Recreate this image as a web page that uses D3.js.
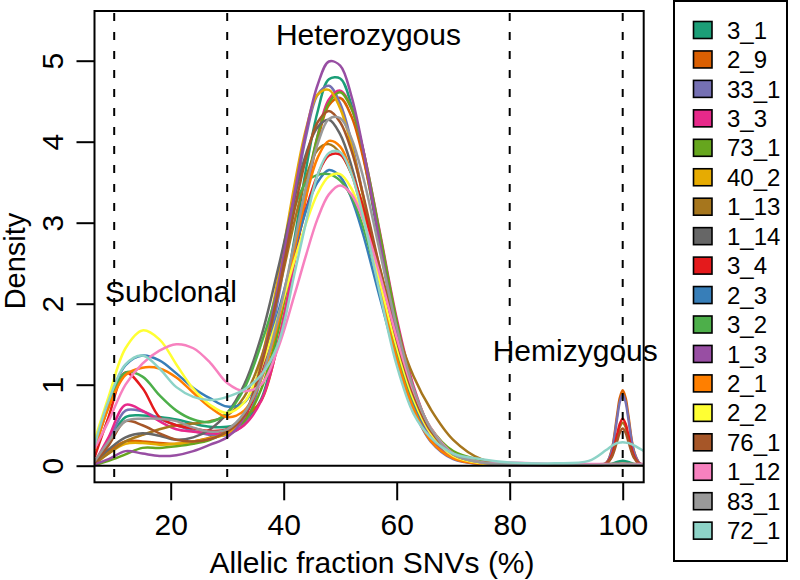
<!DOCTYPE html>
<html><head><meta charset="utf-8">
<script src="https://cdn.jsdelivr.net/npm/d3@7"></script>
<style>
body{margin:0;background:#fff}
svg{display:block}
text{font-family:"Liberation Sans",Arial,Helvetica,sans-serif;fill:#000}
</style>
</head><body>
<svg id="chart" width="800" height="580"></svg>
<script>
// ---- data ----
const xGrid = [6.6,9,12,15,18,21,24,27,30,33, 36,39,42,44,46,48,50,52,54,57,60,63,66,70,75,80,88, 94,97,98,99,99.5,100,100.5,101,102,103,103.8];

const sampleNames = ["3_1","2_9","33_1","3_3","73_1","40_2","1_13","1_14","3_4","2_3","3_2","1_3","2_1","2_2","76_1","1_12","83_1","72_1"];
const sampleColors = ["#1B9E77","#D95F02","#7570B3","#E7298A","#66A61E","#E6AB02","#A6761D","#666666","#E41A1C","#377EB8","#4DAF4A","#984EA3","#FF7F00","#FFFF33","#A65628","#F781BF","#999999","#8DD3C7"];

const d_3_1  = [0.04,0.30,0.60,0.62,0.60,0.57,0.52,0.48,0.48,0.55, 0.82,1.67,2.84,3.68,4.37,4.77,4.78,4.45,3.86,2.73,1.64,0.85,0.37,0.095,0.03,0.02,0.01, 0.01,0.012,0.02,0.045,0.056,0.06,0.056,0.045,0.02,0.012,0.01];
const d_2_9  = [0.04,0.18,0.30,0.30,0.28,0.27,0.30,0.35,0.45,0.60, 0.80,1.52,2.56,3.34,4.01,4.45,4.54,4.31,3.82,2.80,1.75,0.94,0.43,0.12,0.03,0.02,0.01, 0.01,0.03,0.18,0.62,0.84,0.93,0.84,0.62,0.18,0.03,0.01];
const d_33_1 = [0.05,0.30,0.68,0.67,0.58,0.50,0.43,0.38,0.38,0.52, 1.08,2.05,3.32,4.08,4.58,4.69,4.47,4.00,3.35,2.28,1.34,0.69,0.30,0.08,0.02,0.015,0.01, 0.01,0.03,0.17,0.58,0.79,0.88,0.79,0.58,0.17,0.03,0.01];
const d_3_3  = [0.05,0.35,0.75,0.68,0.55,0.45,0.42,0.40,0.40,0.50, 0.80,1.50,2.57,3.37,4.07,4.52,4.63,4.41,3.92,2.89,1.82,0.98,0.45,0.13,0.03,0.02,0.01, 0.012,0.015,0.017,0.02,0.02,0.02,0.02,0.02,0.017,0.015,0.012];
const d_73_1 = [0.01,0.06,0.14,0.22,0.22,0.24,0.27,0.32,0.42,0.55, 0.94,1.68,2.72,3.45,4.07,4.48,4.61,4.41,3.92,2.87,1.78,0.94,0.47,0.18,0.07,0.03,0.015, 0.015,0.02,0.02,0.025,0.025,0.025,0.025,0.025,0.02,0.02,0.015];
const d_40_2 = [0.02,0.15,0.27,0.28,0.26,0.27,0.30,0.34,0.40,0.60, 1.29,2.31,3.50,4.17,4.58,4.64,4.41,3.95,3.34,2.31,1.40,0.75,0.35,0.10,0.03,0.02,0.01, 0.01,0.012,0.015,0.018,0.02,0.02,0.02,0.018,0.015,0.012,0.01];
const d_1_13 = [0.03,0.15,0.30,0.38,0.45,0.50,0.52,0.55,0.62,0.85, 1.33,2.12,3.04,3.57,3.90,3.97,3.86,3.60,3.22,2.45,1.68,1.10,0.70,0.32,0.08,0.02,0.01, 0.01,0.02,0.11,0.35,0.48,0.53,0.48,0.35,0.11,0.02,0.01];
const d_1_14 = [0.05,0.20,0.35,0.40,0.37,0.32,0.35,0.45,0.65,1.00, 1.59,2.43,3.34,3.86,4.18,4.27,4.09,3.70,3.15,2.21,1.36,0.73,0.34,0.10,0.03,0.02,0.01, 0.01,0.012,0.015,0.015,0.015,0.015,0.015,0.015,0.015,0.012,0.01];
const d_3_4  = [0.12,0.60,1.15,0.96,0.60,0.50,0.46,0.43,0.45,0.60, 1.11,1.81,2.65,3.18,3.59,3.83,3.84,3.61,3.20,2.37,1.53,0.85,0.41,0.13,0.03,0.02,0.01, 0.01,0.024,0.12,0.38,0.52,0.58,0.52,0.38,0.12,0.024,0.01];
const d_2_3  = [0.30,0.78,1.24,1.36,1.30,1.14,0.96,0.83,0.73,0.78, 1.22,1.89,2.68,3.16,3.50,3.65,3.57,3.30,2.87,2.08,1.32,0.73,0.36,0.11,0.03,0.02,0.01, 0.01,0.015,0.018,0.02,0.02,0.02,0.02,0.02,0.018,0.015,0.01];
const d_3_2  = [0.22,0.72,1.15,1.10,0.87,0.68,0.57,0.54,0.65,0.95, 1.50,2.20,3.20,3.50,3.59,3.60,3.52,3.32,2.96,2.20,1.40,0.80,0.40,0.14,0.04,0.02,0.01, 0.01,0.012,0.015,0.015,0.015,0.015,0.015,0.015,0.015,0.012,0.01];
const d_1_3  = [0.02,0.08,0.18,0.15,0.12,0.13,0.18,0.26,0.35,0.60, 1.24,2.22,3.40,4.14,4.70,4.99,4.94,4.56,3.93,2.76,1.66,0.85,0.38,0.10,0.02,0.01,0.005, 0.005,0.008,0.01,0.012,0.012,0.012,0.012,0.012,0.01,0.008,0.005];
const d_2_1  = [0.20,0.72,1.12,1.21,1.20,1.09,0.90,0.72,0.60,0.68, 1.06,1.76,2.71,3.33,3.80,4.01,3.94,3.61,3.11,2.19,1.33,0.70,0.31,0.09,0.02,0.015,0.01, 0.01,0.012,0.015,0.015,0.015,0.015,0.015,0.015,0.015,0.012,0.01];
const d_2_2  = [0.33,0.85,1.45,1.67,1.56,1.25,0.95,0.75,0.65,0.78, 1.22,1.84,2.56,3.00,3.36,3.57,3.60,3.42,3.05,2.27,1.47,0.82,0.40,0.12,0.03,0.02,0.01, 0.01,0.01,0.01,0.01,0.01,0.01,0.01,0.01,0.01,0.01,0.01];
const d_76_1 = [0.04,0.25,0.55,0.50,0.40,0.32,0.30,0.33,0.42,0.62, 1.23,2.13,3.19,3.81,4.24,4.38,4.24,3.89,3.36,2.44,1.55,0.87,0.43,0.14,0.04,0.02,0.01, 0.01,0.02,0.097,0.30,0.41,0.46,0.41,0.30,0.097,0.02,0.01];
const d_1_12 = [0.22,0.55,1.00,1.26,1.42,1.50,1.45,1.27,1.02,0.92, 1.00,1.45,2.13,2.61,3.05,3.35,3.46,3.35,3.05,2.36,1.58,0.92,0.47,0.15,0.04,0.04,0.02, 0.02,0.02,0.02,0.02,0.02,0.02,0.02,0.02,0.02,0.02,0.02];
const d_83_1 = [0.06,0.30,0.55,0.58,0.58,0.55,0.47,0.42,0.45,0.65, 1.08,1.82,2.79,3.45,3.97,4.28,4.29,4.04,3.58,2.65,1.71,0.95,0.46,0.14,0.04,0.02,0.01, 0.01,0.012,0.015,0.015,0.015,0.015,0.015,0.015,0.015,0.012,0.01];
const d_72_1 = [0.27,0.80,1.25,1.36,1.20,0.97,0.85,0.81,0.85,0.94, 1.12,1.50,2.40,3.02,3.59,3.86,3.87,3.60,3.09,2.14,1.24,0.64,0.35,0.15,0.08,0.04,0.03, 0.06,0.19,0.24,0.28,0.285,0.29,0.285,0.28,0.25,0.21,0.18];

const xTicks = [20,40,60,80,100];
const yTicks = [0,1,2,3,4,5];
const guideX = [10,30,80,100];
const xTitle = "Allelic fraction SNVs (%)";
const yTitle = "Density";
const regionNames = ["Subclonal","Heterozygous","Hemizygous"];
const regionX = [20.05, 55.0, 91.6];
const regionY = [2.02, 5.19, 1.29];

// ---- build ----
const seriesValues = [d_3_1,d_2_9,d_33_1,d_3_3,d_73_1,d_40_2,d_1_13,d_1_14,d_3_4,d_2_3,d_3_2,d_1_3,d_2_1,d_2_2,d_76_1,d_1_12,d_83_1,d_72_1];
const series = sampleNames.map((n,i)=>({name:n, color:sampleColors[i], pts:xGrid.map((x,j)=>[x, seriesValues[i][j]])}));

const svg = d3.select("#chart");
const box = {left:94.5, right:643.7, top:11, bottom:482.3};
const x = d3.scaleLinear().domain([20,100]).range([170.7,622.7]);
const y = d3.scaleLinear().domain([0,5]).range([465.7,60.7]);

svg.append("defs").append("clipPath").attr("id","plotclip")
  .append("rect").attr("x",box.left).attr("y",box.top)
  .attr("width",box.right-box.left).attr("height",box.bottom-box.top);

const plot = svg.append("g").attr("clip-path","url(#plotclip)");
const line = d3.line().x(d=>x(d[0])).y(d=>y(d[1])).curve(d3.curveCatmullRom.alpha(0.5));

plot.selectAll("path.dens").data(series).enter().append("path")
  .attr("class","dens").attr("d",d=>line(d.pts))
  .attr("fill","none").attr("stroke",d=>d.color).attr("stroke-width",2.5)
  .attr("stroke-linejoin","round").attr("stroke-linecap","round");

// horizontal zero line
plot.append("line").attr("x1",box.left).attr("x2",box.right)
  .attr("y1",y(0)).attr("y2",y(0)).attr("stroke","#000").attr("stroke-width",2);

// dashed guides
plot.selectAll("line.guide").data(guideX).enter().append("line")
  .attr("class","guide").attr("x1",d=>x(d)).attr("x2",d=>x(d))
  .attr("y1",box.top).attr("y2",box.bottom)
  .attr("stroke","#000").attr("stroke-width",2).attr("stroke-dasharray","8,11")
  .attr("stroke-dashoffset",-2);

// box
svg.append("rect").attr("x",box.left).attr("y",box.top)
  .attr("width",box.right-box.left).attr("height",box.bottom-box.top)
  .attr("fill","none").attr("stroke","#000").attr("stroke-width",2);

// x axis
const gx = svg.append("g").attr("transform",`translate(0,${box.bottom})`)
  .call(d3.axisBottom(x).tickValues(xTicks).tickSize(18).tickFormat(d3.format("d")));
gx.select(".domain").remove();
gx.selectAll(".tick line").attr("stroke","#000").attr("stroke-width",2);
gx.selectAll(".tick text").attr("y",535-box.bottom).attr("dy",null)
  .style("font-size","30px").style("font-family",'"Liberation Sans",Arial,sans-serif').attr("fill","#000");

// y axis
const gy = svg.append("g").attr("transform",`translate(${box.left},0)`)
  .call(d3.axisLeft(y).tickValues(yTicks).tickSize(18).tickFormat(d3.format("d")));
gy.select(".domain").remove();
gy.selectAll(".tick line").attr("stroke","#000").attr("stroke-width",2);
gy.selectAll(".tick text").attr("x",null).attr("dy",null).attr("text-anchor","middle")
  .attr("transform",`translate(${63-box.left},0) rotate(-90)`)
  .style("font-size","30px").style("font-family",'"Liberation Sans",Arial,sans-serif').attr("fill","#000");

// titles
svg.append("text").attr("x",372).attr("y",573).attr("text-anchor","middle")
  .style("font-size","30px").text(xTitle);
svg.append("text").attr("transform","translate(25,261) rotate(-90)").attr("text-anchor","middle")
  .style("font-size","29px").text(yTitle);

// region labels
svg.selectAll("text.region").data(regionNames).enter().append("text")
  .attr("class","region").attr("x",(d,i)=>x(regionX[i])).attr("y",(d,i)=>y(regionY[i]))
  .attr("text-anchor","middle").style("font-size","30px").text(d=>d);

// legend
const lg = svg.append("g");
lg.append("rect").attr("x",674).attr("y",1).attr("width",113).attr("height",560)
  .attr("fill","#fff").attr("stroke","#000").attr("stroke-width",2);
const items = lg.selectAll("g.item").data(series).enter().append("g")
  .attr("class","item").attr("transform",(d,i)=>`translate(0,${30+i*29.45})`);
items.append("rect").attr("x",693.5).attr("y",-8.5).attr("width",18.5).attr("height",17)
  .attr("fill",d=>d.color).attr("stroke","#000").attr("stroke-width",1.6);
items.append("text").attr("x",727).attr("y",8.6).style("font-size","24px").text(d=>d.name);
</script>
</body></html>
